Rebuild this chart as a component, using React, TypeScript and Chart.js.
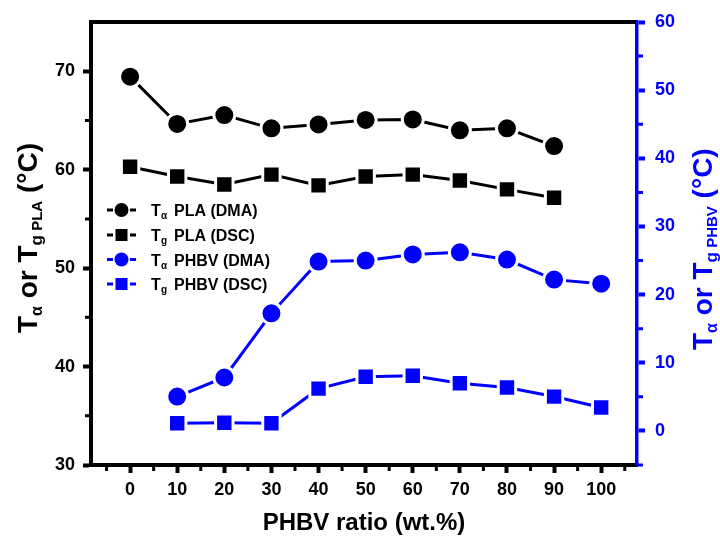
import React, { useEffect, useRef } from "react";
import { Chart, registerables } from "chart.js";
Chart.register(...registerables);

const FONT = "'Liberation Sans', Arial, sans-serif";
const BLUE = "#0000ff";
const BLACK = "#000000";

// PHBV ratio (wt.%)
const ratios = [0, 10, 20, 30, 40, 50, 60, 70, 80, 90, 100];
// left axis (PLA)
const plaDMA = [69.45, 64.64, 65.55, 64.2, 64.6, 65.05, 65.1, 64.0, 64.2, 62.4, null];
const plaDSC = [60.3, 59.3, 58.5, 59.5, 58.4, 59.3, 59.5, 58.9, 58.0, 57.15, null];
// right axis (PHBV)
const phbvDMA = [null, 5.04, 7.84, 17.25, 24.85, 25.0, 25.9, 26.2, 25.15, 22.2, 21.6];
const phbvDSC = [null, 1.13, 1.2, 1.13, 6.2, 7.94, 8.1, 7.0, 6.37, 5.04, 3.43];

const xTicks = [0, 10, 20, 30, 40, 50, 60, 70, 80, 90, 100];
const xMinor = [-5, 5, 15, 25, 35, 45, 55, 65, 75, 85, 95, 105];
const leftTicks = [30, 40, 50, 60, 70];
const leftMinor = [35, 45, 55, 65];
const rightTicks = [0, 10, 20, 30, 40, 50, 60];
const rightMinor = [-5, 5, 15, 25, 35, 45, 55];

const legendItems = [
  { sym: "T", sub: "α", rest: "PLA (DMA)", color: BLACK, shape: "circle" },
  { sym: "T", sub: "g", rest: "PLA (DSC)", color: BLACK, shape: "rect" },
  { sym: "T", sub: "α", rest: "PHBV (DMA)", color: BLUE, shape: "circle" },
  { sym: "T", sub: "g", rest: "PHBV (DSC)", color: BLUE, shape: "rect" },
];

type Part = { t: string; size: number; dy: number };

function drawParts(ctx: CanvasRenderingContext2D, parts: Part[], x: number, y: number, color: string) {
  let cx = x;
  ctx.fillStyle = color;
  ctx.textBaseline = "alphabetic";
  ctx.textAlign = "left";
  for (const p of parts) {
    ctx.font = `bold ${p.size}px ${FONT}`;
    ctx.fillText(p.t, cx, y + p.dy);
    cx += ctx.measureText(p.t).width;
  }
  return cx - x;
}

function toPoints(vals: (number | null)[]) {
  const pts: { x: number; y: number }[] = [];
  vals.forEach((v, i) => {
    if (v !== null) pts.push({ x: ratios[i], y: v });
  });
  return pts;
}

const decorPlugin = {
  id: "decor",
  afterDraw(chart: any) {
    const ctx: CanvasRenderingContext2D = chart.ctx;
    const { left, right, top, bottom } = chart.chartArea;
    const sx = chart.scales.x;
    const sl = chart.scales.y;
    const sr = chart.scales.y1;
    ctx.save();
    // top border
    ctx.strokeStyle = BLACK;
    ctx.lineWidth = 4;
    ctx.beginPath();
    ctx.moveTo(left - 2, top);
    ctx.lineTo(right - 1, top);
    ctx.stroke();
    // minor ticks
    ctx.lineWidth = 3;
    ctx.beginPath();
    xMinor.forEach((v) => {
      const px = sx.getPixelForValue(v);
      ctx.moveTo(px, bottom);
      ctx.lineTo(px, bottom + 6);
    });
    leftMinor.forEach((v) => {
      const py = sl.getPixelForValue(v);
      ctx.moveTo(left, py);
      ctx.lineTo(left - 6, py);
    });
    ctx.stroke();
    ctx.strokeStyle = BLUE;
    ctx.beginPath();
    rightMinor.forEach((v) => {
      const py = sr.getPixelForValue(v);
      ctx.moveTo(right, py);
      ctx.lineTo(right + 6, py);
    });
    ctx.stroke();

    // x title
    ctx.fillStyle = BLACK;
    ctx.font = `bold 24px ${FONT}`;
    ctx.textAlign = "center";
    ctx.textBaseline = "middle";
    ctx.fillText("PHBV ratio (wt.%)", (left + right) / 2, 523);

    // left title
    ctx.save();
    ctx.translate(37, 333);
    ctx.rotate(-Math.PI / 2);
    drawParts(
      ctx,
      [
        { t: "T", size: 28, dy: 0 },
        { t: "α", size: 16, dy: 5 },
        { t: " or T", size: 28, dy: 0 },
        { t: "g", size: 17, dy: 5 },
        { t: " PLA", size: 15, dy: 5 },
        { t: " (°C)", size: 28, dy: 0 },
      ],
      0,
      0,
      BLACK
    );
    ctx.restore();

    // right title
    ctx.save();
    ctx.translate(712, 350);
    ctx.rotate(-Math.PI / 2);
    drawParts(
      ctx,
      [
        { t: "T", size: 28, dy: 0 },
        { t: "α", size: 16, dy: 5 },
        { t: " or T", size: 28, dy: 0 },
        { t: "g", size: 17, dy: 5 },
        { t: " PHBV", size: 15, dy: 5 },
        { t: " (°C)", size: 28, dy: 0 },
      ],
      0,
      0,
      BLUE
    );
    ctx.restore();

    // legend
    const rowsY = [210, 235, 259.5, 284];
    legendItems.forEach((it, i) => {
      const y = rowsY[i];
      ctx.strokeStyle = it.color;
      ctx.lineWidth = 3;
      ctx.beginPath();
      ctx.moveTo(107, y);
      ctx.lineTo(136, y);
      ctx.stroke();
      ctx.fillStyle = "#ffffff";
      ctx.fillRect(113, y - 8, 17, 16);
      ctx.fillStyle = it.color;
      if (it.shape === "circle") {
        ctx.beginPath();
        ctx.arc(121.5, y, 7, 0, Math.PI * 2);
        ctx.fill();
      } else {
        ctx.fillRect(115.5, y - 6, 12, 12);
      }
      ctx.font = `bold 16px ${FONT}`;
      ctx.textAlign = "left";
      ctx.textBaseline = "alphabetic";
      ctx.fillStyle = BLACK;
      ctx.fillText(it.sym, 151, y + 6);
      ctx.font = `bold 10px ${FONT}`;
      ctx.fillText(it.sub, 161, y + 9);
      ctx.font = `bold 16px ${FONT}`;
      ctx.fillText(it.rest, 174, y + 6);
    });
    ctx.restore();
  },
};

export default function App() {
  const ref = useRef<HTMLCanvasElement | null>(null);
  useEffect(() => {
    if (!ref.current) return;
    const common = {
      showLine: true,
      borderWidth: 3,
      pointBorderColor: "#ffffff",
      pointBorderWidth: 3,
      pointHoverRadius: 10,
    };
    const chart = new Chart(ref.current, {
      type: "scatter",
      data: {
        datasets: [
          {
            ...common,
            label: "Tα PLA (DMA)",
            data: toPoints(plaDMA),
            borderColor: BLACK,
            pointBackgroundColor: BLACK,
            pointStyle: "circle",
            pointRadius: 10.5,
            yAxisID: "y",
          },
          {
            ...common,
            label: "Tg PLA (DSC)",
            data: toPoints(plaDSC),
            borderColor: BLACK,
            pointBackgroundColor: BLACK,
            pointStyle: "rect",
            pointRadius: 12.3,
            yAxisID: "y",
          },
          {
            ...common,
            label: "Tα PHBV (DMA)",
            data: toPoints(phbvDMA),
            borderColor: BLUE,
            pointBackgroundColor: BLUE,
            pointStyle: "circle",
            pointRadius: 10.5,
            yAxisID: "y1",
          },
          {
            ...common,
            label: "Tg PHBV (DSC)",
            data: toPoints(phbvDSC),
            borderColor: BLUE,
            pointBackgroundColor: BLUE,
            pointStyle: "rect",
            pointRadius: 12.3,
            yAxisID: "y1",
          },
        ] as any,
      },
      options: {
        responsive: false,
        animation: false,
        devicePixelRatio: 1,
        layout: { padding: { top: 22, left: 0, right: 0, bottom: 0 } },
        plugins: { legend: { display: false }, tooltip: { enabled: false } },
        scales: {
          x: {
            type: "linear",
            min: -8.3,
            max: 107.6,
            afterBuildTicks: (s: any) => {
              s.ticks = xTicks.map((v) => ({ value: v }));
            },
            afterFit: (s: any) => {
              s.height = 79;
            },
            ticks: {
              color: BLACK,
              font: { family: FONT, size: 18, weight: "bold" },
              padding: 6,
              maxRotation: 0,
              autoSkip: false,
            },
            grid: {
              drawOnChartArea: false,
              drawTicks: true,
              tickLength: 8,
              tickWidth: 4,
              tickColor: BLACK,
            },
            border: { color: BLACK, width: 4 },
          },
          y: {
            type: "linear",
            position: "left",
            min: 30,
            max: 75,
            afterBuildTicks: (s: any) => {
              s.ticks = leftTicks.map((v) => ({ value: v }));
            },
            afterFit: (s: any) => {
              s.width = 91;
            },
            ticks: {
              color: BLACK,
              font: { family: FONT, size: 18, weight: "bold" },
              padding: 8,
              autoSkip: false,
            },
            grid: {
              drawOnChartArea: false,
              drawTicks: true,
              tickLength: 8,
              tickWidth: 4,
              tickColor: BLACK,
            },
            border: { color: BLACK, width: 4 },
          },
          y1: {
            type: "linear",
            position: "right",
            min: -5,
            max: 60,
            afterBuildTicks: (s: any) => {
              s.ticks = rightTicks.map((v) => ({ value: v }));
            },
            afterFit: (s: any) => {
              s.width = 83;
            },
            ticks: {
              color: BLUE,
              font: { family: FONT, size: 18, weight: "bold" },
              padding: 10,
              autoSkip: false,
            },
            grid: {
              drawOnChartArea: false,
              drawTicks: true,
              tickLength: 8,
              tickWidth: 4,
              tickColor: BLUE,
            },
            border: { color: BLUE, width: 3.5 },
          },
        },
      } as any,
      plugins: [decorPlugin],
    });
    return () => chart.destroy();
  }, []);
  return (
    <div style={{ position: "fixed", left: 0, top: 0, width: 720, height: 544, background: "#fff" }}>
      <canvas ref={ref} width={720} height={544} style={{ width: 720, height: 544 }} />
    </div>
  );
}
